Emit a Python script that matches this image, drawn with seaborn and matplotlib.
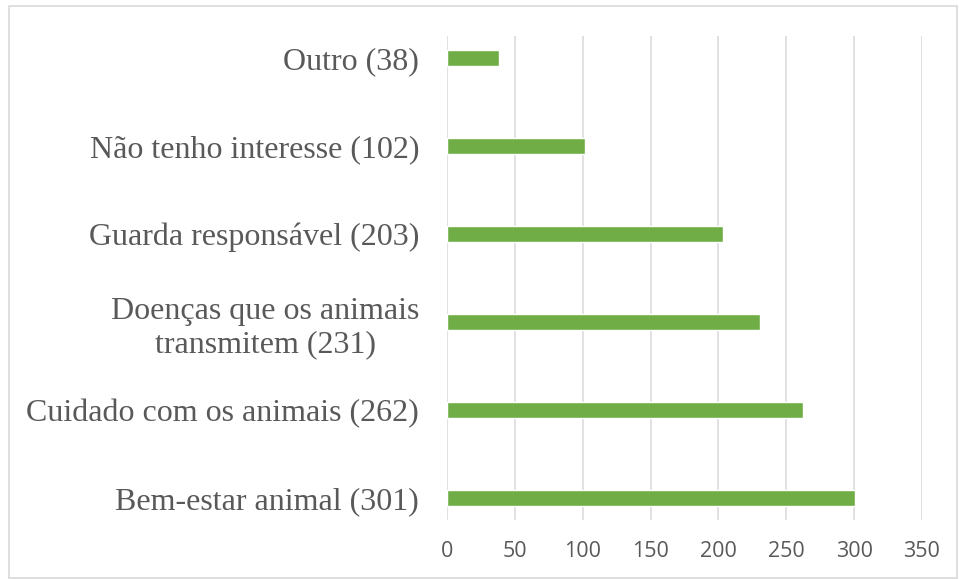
import matplotlib
matplotlib.use("Agg")
import matplotlib.pyplot as plt
import seaborn as sns
import pandas as pd
from matplotlib.patches import Rectangle

# === Data ===
categories = ["Outro (38)", "Não tenho interesse (102)", "Guarda responsável (203)",
              "Doenças que os animais\ntransmitem (231)", "Cuidado com os animais (262)",
              "Bem-estar animal (301)"]
values = [38, 102, 203, 231, 262, 301]
x_ticks = [0, 50, 100, 150, 200, 250, 300, 350]

df = pd.DataFrame({"tema": categories, "n": values})

sns.set_theme(style="white")

fig = plt.figure(figsize=(9.59, 5.79), dpi=100)
ax = fig.add_axes([447 / 959, 1 - 520 / 579, (922 - 447) / 959, (520 - 36) / 579])

sns.barplot(data=df, x="n", y="tema", orient="h", color="#70AD47",
            width=0.18, saturation=1, ax=ax, zorder=3)

ax.set_xlim(0, 350)
ax.set_ylim(5.25, -0.25)
ax.set_xticks(x_ticks)
ax.set_xticklabels([str(t) for t in x_ticks], fontsize=15.5, color="#595959",
                   family=["Open Sans", "DejaVu Sans"])
ax.set_yticks(range(len(categories)))
ax.set_yticklabels(categories, fontsize=23, color="#595959",
                   family=["Liberation Serif", "DejaVu Serif"], multialignment="center",
                   linespacing=1.2)
ax.tick_params(axis="both", length=0)
ax.tick_params(axis="x", pad=15)
ax.tick_params(axis="y", pad=20)
ax.set_xlabel("")
ax.set_ylabel("")

ax.grid(axis="x", color="#D9D9D9", linewidth=1.1, zorder=0)
ax.grid(axis="y", visible=False)
for s in ax.spines.values():
    s.set_visible(False)

# outer chart border
fig.patches.append(Rectangle((9 / 959, 0.002), (957 - 9) / 959, 1 - 6 / 579 - 0.002,
                             transform=fig.transFigure, fill=False,
                             edgecolor="#D9D9D9", linewidth=1.2))

fig.savefig("out.png", dpi=100)
